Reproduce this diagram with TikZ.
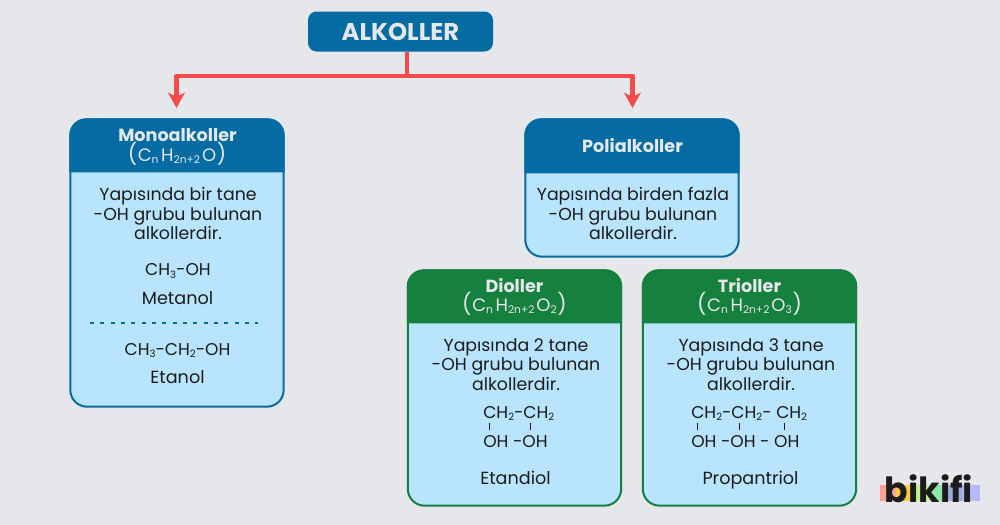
\documentclass[tikz,border=0pt]{standalone}
\usepackage{fontspec}
\setmainfont{Poppins}
\usetikzlibrary{arrows.meta}
\definecolor{bgc}{HTML}{E5E7EB}
\definecolor{blueh}{HTML}{046BA3}
\definecolor{lightb}{HTML}{B8E4FD}
\definecolor{greenh}{HTML}{16803F}
\definecolor{redc}{HTML}{F54A4A}
\definecolor{inkc}{HTML}{1C1C1C}
\newcommand{\fs}[1]{\fontsize{#1}{#1}\selectfont}
\newcommand{\dn}[1]{\raisebox{-0.32ex}{\fs{7.6}#1}}
\newcommand{\dnb}[1]{\raisebox{-0.25ex}{\fs{8}#1}}
\newcommand{\parL}{{\fs{15.5}(}}
\newcommand{\parR}{{\fs{15.5})}}
\newcommand{\Fhead}[1]{\fs{13.5}\parL\hspace{0.5pt}C\dnb{n}\hspace{2pt}H\dnb{2n+2}\hspace{1.5pt}#1\hspace{0.5pt}\parR}
\tikzset{
  x=0.75pt,y=-0.75pt,
  bodybox/.style={rectangle,rounded corners=12.5pt,draw=#1,line width=1.5pt,fill=lightb,inner sep=0pt},
  headtxt/.style={anchor=base,text=bgc,inner sep=0pt,font=\fs{13.2}\bfseries},
  formtxt/.style={anchor=base,text=bgc,inner sep=0pt},
  bodytxt/.style={anchor=center,text=inkc,align=center,inner sep=0pt,font=\fontsize{13}{14.5}\selectfont},
  chemtxt/.style={anchor=base,text=inkc,inner sep=0pt,font=\fs{12.8}},
  nametxt/.style={anchor=base,text=inkc,inner sep=0pt,font=\fs{13.2}},
  chemleft/.style={anchor=base west,text=inkc,inner sep=0pt,font=\fs{12.8}},
  tick/.style={draw=inkc,line width=0.75pt},
  redline/.style={draw=redc,line width=3.7pt},
}
\begin{document}
\begin{tikzpicture}
\useasboundingbox (0,0) rectangle (1000,525);
\fill[bgc] (0,0) rectangle (1000,525);
% title
\node[rectangle,rounded corners=6.5pt,fill=blueh,minimum width=138.75pt,minimum height=30pt,inner sep=0pt,text=bgc,font=\fs{18.2}\bfseries] (alk) at (400.5,31.5) {ALKOLLER};
% connectors
\coordinate (jn) at (407,76);
\coordinate (tipL) at (176.5,108);
\coordinate (tipR) at (632.5,108);
\draw[redline] (alk.south -| jn) -- (jn);
\draw[redline,line join=round,-{Stealth[length=11.5pt,width=12.5pt,inset=3.2pt]}] (jn) -| (tipL);
\draw[redline,line join=round,-{Stealth[length=11.5pt,width=12.5pt,inset=3.2pt]}] (jn) -| (tipR);
% boxes
\node[bodybox=blueh,minimum width=160pt,minimum height=215.5pt] (mono) at (177,263) {};
\node[bodybox=blueh,minimum width=160pt,minimum height=103pt] (poli) at (632,188) {};
\node[bodybox=greenh,minimum width=160pt,minimum height=176.5pt] (diol) at (514.5,388) {};
\node[bodybox=greenh,minimum width=160pt,minimum height=176.5pt] (triol) at (749.5,388) {};
% headers
\fill[blueh] (mono.north west) ++(0,54) [rounded corners=12.5pt] -- ++(0,-54) -- (mono.north east) [sharp corners] -- ++(0,54) -- cycle;
\fill[blueh] (poli.north west) ++(0,55) [rounded corners=12.5pt] -- ++(0,-55) -- (poli.north east) [sharp corners] -- ++(0,55) -- cycle;
\fill[greenh] (diol.north west) ++(0,54) [rounded corners=12.5pt] -- ++(0,-54) -- (diol.north east) [sharp corners] -- ++(0,54) -- cycle;
\fill[greenh] (triol.north west) ++(0,54) [rounded corners=12.5pt] -- ++(0,-54) -- (triol.north east) [sharp corners] -- ++(0,54) -- cycle;
% Monoalkoller
\node[headtxt] (monoT) at (177.5,141.5) {Monoalkoller};
\node[formtxt] (monoF) at (177,161) {\Fhead{O}};
\node[bodytxt] (monoB) at (178,213.5) {Yapısında bir tane\\-OH grubu bulunan\\alkollerdir.};
\node[chemtxt] (m1) at (178,275.5) {CH\dn{3}-OH};
\node[nametxt] (m2) at (177.5,304) {Metanol};
\coordinate (dL) at (90,323);
\coordinate (dR) at (258,323);
\draw[blueh,line width=1.5pt,dash pattern=on 3pt off 4.75pt] (dL) -- (dR);
\node[chemtxt] (m3) at (177.5,355) {CH\dn{3}-CH\dn{2}-OH};
\node[nametxt] (m4) at (177.5,383.5) {Etanol};
% Polialkoller
\node[headtxt] (poliT) at (632.5,152) {Polialkoller};
\node[bodytxt] (poliB) at (633,213.5) {Yapısında birden fazla\\-OH grubu bulunan\\alkollerdir.};
% Dioller
\node[headtxt] (diolT) at (514.5,292) {Dioller};
\node[formtxt] (diolF) at (514.5,311.5) {\Fhead{O\dnb{2}}};
\node[bodytxt] (diolB) at (516,364.5) {Yapısında 2 tane\\-OH grubu bulunan\\alkollerdir.};
\node[chemleft] (d1) at (483,418) {CH\dn{2}-CH\dn{2}};
\draw[tick] (489,423) -- (489,430);
\draw[tick] (530.5,423) -- (530.5,430);
\node[chemleft] (d2) at (483,447) {OH -OH};
\node[nametxt] (d3) at (515.5,484.5) {Etandiol};
% Trioller
\node[headtxt] (triolT) at (749.5,292) {Trioller};
\node[formtxt] (triolF) at (749.5,311.5) {\Fhead{O\dnb{3}}};
\node[bodytxt] (triolB) at (751,364.5) {Yapısında 3 tane\\-OH grubu bulunan\\alkollerdir.};
\node[chemleft] (t1) at (691,418) {CH\dn{2}-CH\dn{2}- CH\dn{2}};
\draw[tick] (697.5,423) -- (697.5,430);
\draw[tick] (739,423) -- (739,430);
\draw[tick] (784,423) -- (784,430);
\node[chemleft] (t2) at (691,447) {OH -OH - OH};
\node[nametxt] (t3) at (750.5,484.5) {Propantriol};
% logo
\fill[red!35!white!90!orange] (880,485) rectangle (896,501);
\fill[orange!55!yellow!75!white] (896,485) rectangle (913,501);
\fill[green!45!yellow!45!white!90!gray] (913,485) rectangle (930,501);
\fill[teal!40!green!45!white] (930,485) rectangle (947,501);
\fill[cyan!40!blue!40!white] (947,485) rectangle (963,501);
\fill[blue!28!white] (963,485) rectangle (980,501);
\node[anchor=base,inner sep=0pt,text=inkc,font=\fs{26}\bfseries] (logo) at (929,502.5) {bikifi};
\end{tikzpicture}
\end{document}
